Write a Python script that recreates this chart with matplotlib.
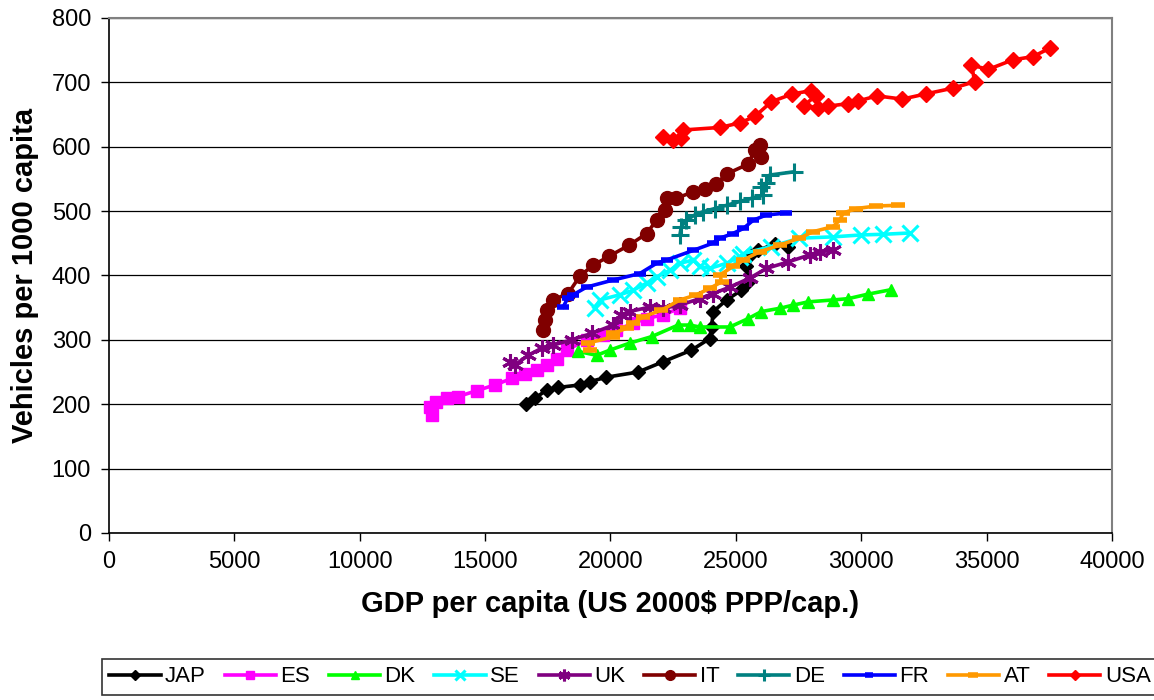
import matplotlib.pyplot as plt

plt.rcParams['font.family'] = ['Liberation Sans', 'DejaVu Sans']

# GDP per capita (US 2000$ PPP) and vehicles per 1000 capita, by country
jap_gdp = [16650, 16980, 17450, 17910, 18780, 19180, 19840, 21100, 22100, 23230,
           23960, 24030, 24100, 24630, 25220, 25490, 25420, 25560, 25890, 26550, 27080]
jap_veh = [201, 209, 222, 226, 230, 235, 242, 250, 266, 284,
           302, 320, 344, 362, 377, 390, 414, 432, 439, 449, 445]

es_gdp = [12870, 12800, 13060, 13460, 13930, 14660, 15390, 16060, 16590, 17050,
          17450, 17850, 18250, 19050, 19710, 20240, 20900, 21440, 22100, 22770]
es_veh = [183, 196, 204, 209, 212, 221, 230, 240, 247, 253,
          261, 271, 284, 300, 307, 315, 326, 333, 339, 349]

dk_gdp = [18710, 19450, 19970, 20770, 21640, 22700, 23160, 23560, 24760, 25490,
          26020, 26750, 27290, 27880, 28880, 29480, 30270, 31200]
dk_veh = [282, 276, 284, 295, 305, 323, 323, 320, 320, 333,
          344, 349, 354, 359, 362, 364, 371, 378]

se_gdp = [19380, 19580, 20370, 20900, 21440, 21840, 22370, 22770, 23300, 23560,
          23960, 24630, 25160, 25290, 26420, 27540, 28880, 30010, 30870, 31940]
se_veh = [349, 362, 370, 377, 388, 398, 408, 419, 424, 414,
          411, 419, 429, 434, 445, 458, 460, 463, 464, 466]

uk_gdp = [15990, 16190, 16720, 17250, 17720, 18450, 19250, 20110, 20440, 20770,
          21570, 22100, 22770, 23560, 24100, 24760, 25560, 26220, 27080, 27950,
          28350, 28880]
uk_veh = [266, 261, 276, 287, 292, 300, 310, 323, 339, 344,
          351, 349, 354, 364, 372, 382, 396, 411, 421, 432,
          437, 439]

it_gdp = [17320, 17380, 17450, 17710, 18310, 18780, 19310, 19950, 20740, 21440,
          21840, 22170, 22240, 22630, 23300, 23760, 24200, 24650, 25490, 25760,
          25960, 26020]
it_veh = [315, 331, 346, 362, 372, 399, 416, 430, 447, 465,
          486, 502, 521, 520, 530, 535, 542, 558, 573, 595,
          603, 584]

de_gdp = [22770, 22830, 23030, 23360, 23690, 24160, 24630, 25160, 25640, 26090,
          26020, 26220, 26350, 27310]
de_veh = [463, 476, 486, 494, 499, 504, 509, 515, 520, 525,
          538, 544, 556, 561]

fr_gdp = [18110, 18300, 18510, 19050, 20110, 21170, 21840, 22240, 23300, 24070,
          24370, 24870, 25300, 25700, 26220, 27020]
fr_veh = [351, 365, 370, 382, 393, 403, 419, 424, 439, 450,
          458, 465, 473, 486, 494, 497]

at_gdp = [19180, 19110, 20110, 20110, 20640, 20900, 21310, 22030, 22770, 23430,
          23960, 24430, 24370, 24890, 25290, 25960, 26750, 27540, 28080, 28880,
          29150, 29280, 29810, 30610, 31470]
at_veh = [284, 295, 305, 310, 318, 326, 336, 346, 362, 370,
          380, 390, 401, 414, 424, 437, 447, 458, 468, 476,
          486, 497, 504, 508, 509]

usa_gdp = [22100, 22500, 22830, 22900, 24370, 25160, 25760, 26420, 27260, 27980,
           28190, 27710, 28280, 28680, 29480, 29870, 30630, 31640, 32570, 33660,
           34530, 34400, 35060, 36050, 36850, 37520]
usa_veh = [615, 610, 614, 626, 630, 637, 647, 670, 682, 687,
           679, 664, 660, 663, 667, 671, 679, 674, 682, 691,
           701, 727, 720, 735, 740, 753]

fig = plt.figure(figsize=(11.54, 7.0), dpi=100)
ax = fig.add_axes([0.0945, 0.2386, 0.8690, 0.7357])

lw = 2.6
ax.plot(jap_gdp, jap_veh, color='black', lw=lw, marker='D', ms=7, label='JAP')
ax.plot(es_gdp, es_veh, color='#FF00FF', lw=lw, marker='s', ms=8, label='ES')
ax.plot(dk_gdp, dk_veh, color='#00FF00', lw=lw, marker='^', ms=9, label='DK')
ax.plot(se_gdp, se_veh, color='#00FFFF', lw=lw, marker='x', ms=11, mew=2.2, label='SE')
ax.plot(uk_gdp, uk_veh, color='#800080', lw=lw, marker=(6, 2, 0), ms=12, mew=2.2, label='UK')
ax.plot(it_gdp, it_veh, color='#800000', lw=lw, marker='o', ms=10, label='IT')
ax.plot(de_gdp, de_veh, color='#008080', lw=lw, marker='+', ms=13, mew=2.2, label='DE')
ax.plot(fr_gdp, fr_veh, color='#0000FF', lw=lw, marker='_', ms=8, mew=4, label='FR')
ax.plot(at_gdp, at_veh, color='#FF9900', lw=lw, marker='_', ms=10, mew=4, label='AT')
ax.plot(usa_gdp, usa_veh, color='#FF0000', lw=lw, marker='D', ms=8, label='USA')

ax.set_xlim(0, 40000)
ax.set_ylim(0, 800)
ax.set_xticks(range(0, 40001, 5000))
ax.set_yticks(range(0, 801, 100))
ax.grid(axis='y', color='black', lw=0.9)
ax.set_axisbelow(True)

for side in ['top', 'right']:
    ax.spines[side].set_color('#808080')
    ax.spines[side].set_linewidth(1.5)
for side in ['left', 'bottom']:
    ax.spines[side].set_color('black')
    ax.spines[side].set_linewidth(1.2)

ax.tick_params(direction='out', length=6, width=1, labelsize=17, pad=7)
ax.set_xlabel('GDP per capita (US 2000$ PPP/cap.)', fontsize=21, fontweight='bold', labelpad=12)
ax.set_ylabel('Vehicles per 1000 capita', fontsize=21, fontweight='bold', labelpad=9)

leg = fig.legend(loc='lower center', bbox_to_anchor=(0.546, -0.009), ncol=10, fontsize=16,
                 frameon=True, fancybox=False, edgecolor='black', handlelength=2.3,
                 handletextpad=0.2, columnspacing=0.85, borderpad=0.35, markerscale=0.7)
leg.get_frame().set_linewidth(1.2)

fig.savefig('out.png', dpi=100)
